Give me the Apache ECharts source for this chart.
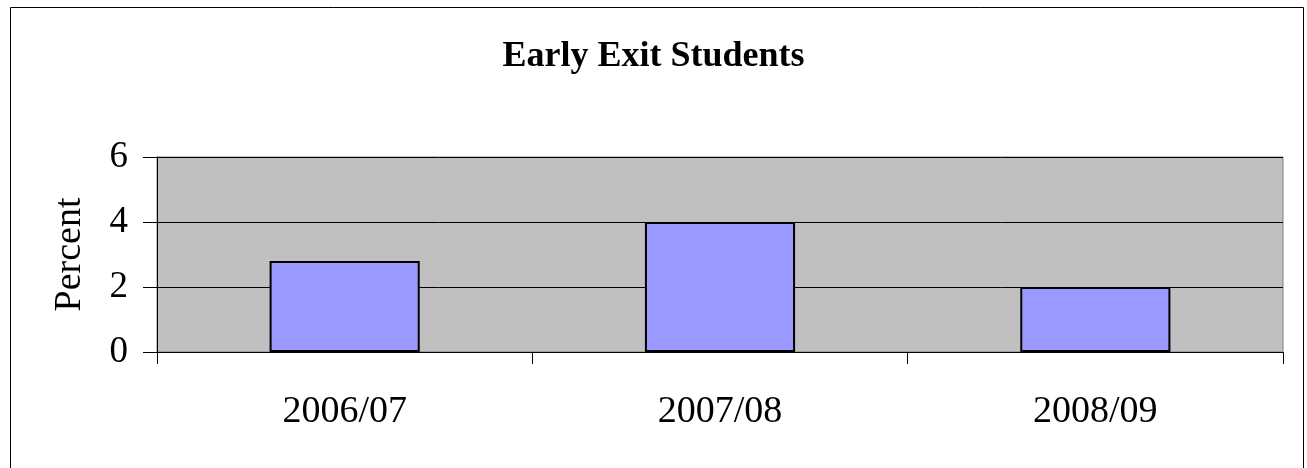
<!DOCTYPE html>
<html>
<head>
<meta charset="utf-8">
<script src="https://cdn.jsdelivr.net/npm/echarts@6/dist/echarts.min.js"></script>
<style>
  html, body { margin: 0; padding: 0; background: #fff; }
  #chart { width: 1307px; height: 468px; }
</style>
</head>
<body>
<div id="chart"></div>
<script>
// chart data
const categories = ['2006/07', '2007/08', '2008/09']
const percentValues = [2.8, 4.0, 2.0]
const yTicks = [0, 2, 4, 6]

const chart = echarts.init(document.getElementById('chart'))

const serif = '"Liberation Serif", "DejaVu Serif", serif'

const option = {
  animation: false,
  backgroundColor: '#fff',
  title: {
    text: 'Early Exit Students',
    left: 'center',
    top: 34,
    textStyle: {
      fontFamily: serif,
      fontWeight: 'bold',
      fontSize: 36,
      color: '#000',
    },
  },
  graphic: [
    {
      type: 'rect',
      shape: { x: 10.5, y: 7.5, width: 1293, height: 480 },
      style: { fill: 'none', stroke: '#000', lineWidth: 1 },
      z: 100,
    },
  ],
  grid: {
    left: 157,
    right: 24,
    top: 157,
    bottom: 116,
    show: true,
    backgroundColor: '#c0c0c0',
    borderWidth: 1,
    borderColor: '#808080',
  },
  xAxis: {
    type: 'category',
    data: categories,
    boundaryGap: true,
    axisLine: { lineStyle: { color: '#000', width: 1 } },
    axisTick: { show: true, length: 12, alignWithLabel: false, lineStyle: { color: '#000' } },
    axisLabel: {
      fontFamily: serif,
      fontSize: 38,
      color: '#000',
      margin: 41,
    },
  },
  yAxis: {
    type: 'value',
    min: yTicks[0],
    max: yTicks[yTicks.length - 1],
    interval: 2,
    name: 'Percent',
    nameLocation: 'middle',
    nameGap: 68,
    nameTextStyle: {
      fontFamily: serif,
      fontSize: 38,
      color: '#000',
    },
    axisLine: { show: true, lineStyle: { color: '#000', width: 1 } },
    axisTick: { show: true, length: 14, lineStyle: { color: '#000' } },
    axisLabel: {
      fontFamily: serif,
      fontSize: 37,
      color: '#000',
      margin: 29,
    },
    splitLine: { show: true, lineStyle: { color: '#000', width: 1 } },
  },
  series: [
    {
      type: 'bar',
      data: percentValues,
      barWidth: '40%',
      itemStyle: {
        color: '#9999ff',
        borderColor: '#000',
        borderWidth: 2,
      },
    },
  ],
}

chart.setOption(option)
</script>
</body>
</html>
